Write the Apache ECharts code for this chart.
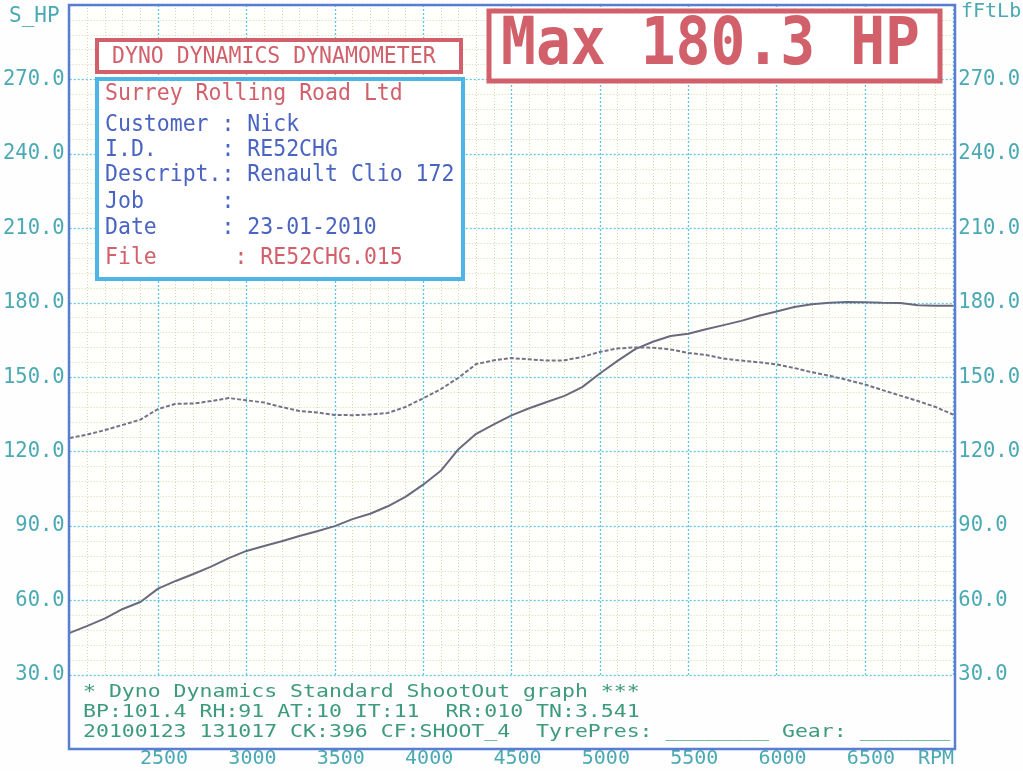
<!DOCTYPE html>
<html>
<head>
<meta charset="utf-8">
<script src="https://cdn.jsdelivr.net/npm/echarts@6/dist/echarts.min.js"></script>
<style>
html,body{margin:0;padding:0;background:#fefefe;}
#chart{width:1023px;height:771px;}
</style>
</head>
<body>
<div id="chart"></div>
<script>
// ---- data ----
const rpm = [2000,2100,2200,2300,2400,2500,2600,2700,2800,2900,
             3000,3100,3200,3300,3400,3500,3600,3700,3800,3900,
             4000,4100,4200,4300,4400,4500,4600,4700,4800,4900,
             5000,5100,5200,5300,5400,5500,5600,5700,5800,5900,
             6000,6100,6200,6300,6400,6500,6600,6700,6800,6900,7000];
const powerHP = [47.0,49.8,52.8,56.6,59.4,64.8,67.9,70.7,73.7,77.1,
                 80.0,82.0,83.9,86.0,87.9,90.0,92.8,95.0,98.0,101.8,
                 106.7,112.3,121.0,127.2,131.0,134.6,137.5,140.0,142.5,146.0,
                 151.5,156.6,161.3,164.3,166.6,167.5,169.3,171.0,172.7,174.8,
                 176.5,178.3,179.4,180.0,180.3,180.2,180.0,179.9,179.0,178.8,178.8];
const torqueFtLb = [125.5,126.9,128.7,130.8,132.9,137.2,139.3,139.4,140.4,141.6,
                    140.7,139.8,138.0,136.4,135.8,134.8,134.7,135.0,135.6,138.0,
                    141.5,145.2,149.8,155.3,156.8,157.7,157.2,156.7,156.8,158.2,
                    160.2,161.6,162.0,161.9,161.2,159.8,159.0,157.5,156.7,156.0,
                    155.2,153.7,152.0,150.6,148.9,147.1,144.8,142.6,140.4,138.0,134.9];
const yTicks = [30,60,90,120,150,180,210,240,270];
const xTickLabels = [2500,3000,3500,4000,4500,5000,5500,6000,6500];
const infoLines = [
  ['Customer', 'Nick'],
  ['I.D.', 'RE52CHG'],
  ['Descript.', 'Renault Clio 172'],
  ['Job', ''],
  ['Date', '23-01-2010']
];
const footerLines = [
  '* Dyno Dynamics Standard ShootOut graph ***',
  'BP:101.4 RH:91 AT:10 IT:11  RR:010 TN:3.541',
  '20100123 131017 CK:396 CF:SHOOT_4  TyrePres: ________ Gear: _______'
];

const MONO = "'DejaVu Sans Mono', 'Liberation Mono', monospace";
const TEAL = '#4aa9b3';
const RED = '#d2606b';
const BLUE = '#4a64c2';
const GREEN = '#3e9a7c';
const FRAME = '#5a7dd2';

const chart = echarts.init(document.getElementById('chart'));

function pad(s, n){ while (s.length < n) s += ' '; return s; }

const graphics = [];
graphics.push({type:'rect', z:50, shape:{x:69, y:5, width:886, height:744},
  style:{fill:null, stroke:FRAME, lineWidth:2.5}});
graphics.push({type:'text', z:60, x:9, y:17, style:{text:'S_HP', font:"21px "+MONO, fill:TEAL, verticalAlign:'middle'}});
graphics.push({type:'text', z:60, x:961, y:12, style:{text:'fFtLb', font:"20px "+MONO, fill:TEAL, verticalAlign:'middle'}});
graphics.push({type:'text', z:60, x:936, y:759, style:{text:'RPM', font:"20px "+MONO, fill:TEAL, align:'center', verticalAlign:'middle'}});
graphics.push({type:'rect', z:60, shape:{x:97, y:40, width:364, height:32},
  style:{fill:'#ffffff', stroke:RED, lineWidth:4}});
graphics.push({type:'text', z:61, x:112, y:57, scaleY:1.06, style:{text:'DYNO DYNAMICS DYNAMOMETER', font:"21.5px "+MONO, fill:RED, verticalAlign:'middle'}});
graphics.push({type:'rect', z:60, shape:{x:489, y:11, width:451, height:70},
  style:{fill:'#ffffff', stroke:RED, lineWidth:5}});
graphics.push({type:'text', z:61, x:501, y:47, scaleY:1.12, style:{text:'Max 180.3 HP', font:"bold 58px "+MONO, fill:RED, verticalAlign:'middle'}});
graphics.push({type:'rect', z:60, shape:{x:97, y:79, width:366, height:200},
  style:{fill:'#ffffff', stroke:'#4db6e6', lineWidth:4}});
graphics.push({type:'text', z:61, x:105, y:94, scaleY:1.05, style:{text:'Surrey Rolling Road Ltd', font:"21.5px "+MONO, fill:RED, verticalAlign:'middle'}});
const infoY = [125,150,175,202,228];
infoLines.forEach((l, i) => {
  graphics.push({type:'text', z:61, x:105, y:infoY[i], scaleY:1.05,
    style:{text:pad(l[0],9), font:"21.5px "+MONO, fill:BLUE, verticalAlign:'middle'}});
  graphics.push({type:'text', z:61, x:105 + 9*12.94, y:infoY[i], scaleY:1.05,
    style:{text:': ' + l[1], font:"21.5px "+MONO, fill:BLUE, verticalAlign:'middle'}});
});
graphics.push({type:'text', z:61, x:105, y:258, scaleY:1.05, style:{text:'File      : RE52CHG.015', font:"21.5px "+MONO, fill:RED, verticalAlign:'middle'}});
const footY = [692,712,732];
footerLines.forEach((t, i) => {
  graphics.push({type:'text', z:61, x:83, y:footY[i], scaleY:0.85,
    style:{text:t, font:"21.5px "+MONO, fill:GREEN, verticalAlign:'middle'}});
});

const gridMajor = {color:'#62c3e2', type:[2,2], width:1.3};
const gridMinor = {color:'#dcd2bc', type:[1,2], width:1};

const option = {
  backgroundColor:'#fefefe',
  animation:false,
  grid:{left:69, right:68, top:5, bottom:96, show:true, backgroundColor:'#fffffc', borderWidth:0},
  xAxis:{
    type:'value', min:2000, max:7000, interval:500,
    axisLine:{show:false}, axisTick:{show:false},
    splitLine:{show:true, lineStyle:gridMajor},
    minorTick:{show:false, splitNumber:5},
    minorSplitLine:{show:true, lineStyle:gridMinor},
    axisLabel:{
      margin:74, padding:[0,0,0,12],
      color:TEAL, fontFamily:MONO, fontSize:20,
      formatter: v => xTickLabels.indexOf(v) >= 0 ? String(v) : ''
    }
  },
  yAxis:[{
    type:'value', min:30, max:300, interval:30,
    axisLine:{show:false}, axisTick:{show:false},
    splitLine:{show:true, lineStyle:gridMajor},
    minorTick:{show:false, splitNumber:5},
    minorSplitLine:{show:true, lineStyle:gridMinor},
    axisLabel:{
      margin:5, color:TEAL, fontFamily:MONO, fontSize:20.5,
      formatter: v => yTicks.indexOf(v) >= 0 ? v.toFixed(1) : ''
    }
  },{
    type:'value', min:30, max:300, interval:30, position:'right',
    axisLine:{show:false}, axisTick:{show:false}, splitLine:{show:false},
    axisLabel:{
      margin:5, padding:[0,0,12,0], color:TEAL, fontFamily:MONO, fontSize:20.5,
      formatter: v => yTicks.indexOf(v) >= 0 ? v.toFixed(1) : ''
    }
  }],
  series:[{
    name:'Power (HP)', type:'line', yAxisIndex:0, showSymbol:false, z:10,
    data: rpm.map((r,i) => [r, powerHP[i]]),
    lineStyle:{color:'#6a6a7e', width:2}
  },{
    name:'Torque (ftlb)', type:'line', yAxisIndex:1, showSymbol:false, z:10,
    data: rpm.map((r,i) => [r, torqueFtLb[i]]),
    lineStyle:{color:'#737388', width:2, type:[4,2]}
  }],
  graphic: graphics
};
chart.setOption(option);
</script>
</body>
</html>
